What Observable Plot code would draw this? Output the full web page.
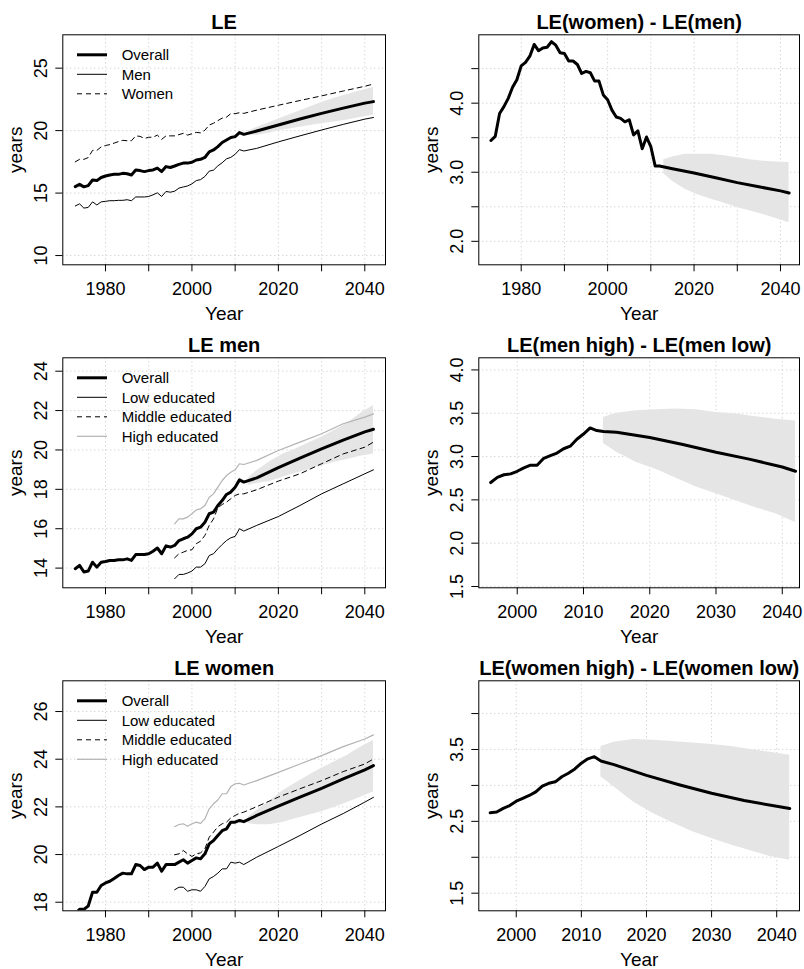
<!DOCTYPE html>
<html><head><meta charset="utf-8">
<script src="https://cdn.jsdelivr.net/npm/d3@7"></script>
<script src="https://cdn.jsdelivr.net/npm/@observablehq/plot@0.6"></script>
<style>
body{margin:0;background:#fff;}
#wrap{position:relative;width:804px;height:969px;overflow:hidden;background:#fff;}
#wrap svg{position:absolute;}
</style></head><body><div id="wrap"></div>
<script>
// ---------- years ----------
const histYears = d3.range(1973, 2013);      // 1973..2012
const eduYears = d3.range(1996, 2013);       // 1996..2012
const gapYears = d3.range(1996, 2014);       // 1996..2013
const projYears = [2015, 2020, 2025, 2030, 2035, 2040, 2042];
const bandYears = [2013, 2015, 2018, 2021, 2024, 2027, 2030, 2033, 2036, 2039, 2042];

// ---------- LE (overall) ----------
const leOverallHist = [15.52,15.70,15.50,15.60,16.05,16.00,16.25,16.37,16.45,16.50,
  16.50,16.58,16.55,16.45,16.85,16.80,16.72,16.80,16.85,17.00,
  16.72,17.12,17.05,17.17,17.30,17.40,17.40,17.47,17.65,17.70,
  17.85,18.30,18.45,18.72,19.05,19.25,19.45,19.52,19.84,19.70];
const leOverallProj = [19.97,20.45,20.93,21.38,21.80,22.20,22.32];
const leBandLo = [19.65,19.60,19.80,20.05,20.20,20.40,20.55,20.70,20.85,21.05,21.25];
const leBandHi = [19.95,20.25,20.65,21.05,21.45,21.85,22.25,22.60,22.90,23.20,23.45];

// ---------- men overall ----------
const menOverallHist = [13.97,14.14,13.80,13.85,14.30,14.05,14.30,14.34,14.39,14.39,
  14.42,14.42,14.47,14.39,14.69,14.69,14.69,14.73,14.86,15.02,
  14.73,15.13,15.07,15.15,15.40,15.49,15.57,15.74,16.00,16.08,
  16.33,16.76,16.84,17.18,17.43,17.74,17.86,18.11,18.48,18.37];
const menOverallProj = [18.58,19.10,19.58,20.05,20.50,20.92,21.05];
const menBandLo = [18.20,18.30,18.40,18.62,18.82,19.00,19.18,19.38,19.52,19.68,19.80];
const menBandHi = [18.55,18.95,19.40,19.78,20.05,20.35,20.65,21.00,21.35,21.85,22.26];

// ---------- women overall ----------
const womenOverallHist = [17.50,17.70,17.70,17.84,18.42,18.42,18.70,18.81,18.88,19.00,
  19.12,19.22,19.19,19.19,19.58,19.54,19.37,19.47,19.47,19.64,
  19.30,19.58,19.58,19.58,19.68,19.78,19.64,19.75,19.86,19.82,
  20.03,20.45,20.59,20.80,21.00,21.08,21.36,21.36,21.43,21.38];
const womenOverallProj = [21.64,22.03,22.41,22.78,23.17,23.55,23.73];
const womenBandLo = [21.30,21.25,21.25,21.35,21.50,21.65,21.80,21.98,22.18,22.40,22.62];
const womenBandHi = [21.57,21.85,22.25,22.67,23.00,23.32,23.62,23.89,24.17,24.50,24.78];

// ---------- LE(women) - LE(men) ----------
const sexGapHist = [3.46,3.52,3.85,3.95,4.07,4.23,4.34,4.54,4.59,4.68,
  4.85,4.76,4.80,4.81,4.89,4.84,4.73,4.72,4.61,4.61,
  4.56,4.43,4.46,4.44,4.32,4.32,4.12,4.05,3.90,3.80,
  3.78,3.73,3.76,3.54,3.60,3.34,3.51,3.37,3.09,3.09];
const sexGapProj = [3.05,2.99,2.92,2.85,2.79,2.73,2.70];
const sexGapBandLo = [2.98,2.87,2.75,2.67,2.61,2.55,2.49,2.44,2.39,2.33,2.27];
const sexGapBandHi = [3.18,3.22,3.26,3.26,3.26,3.24,3.21,3.18,3.16,3.15,3.14];

// ---------- men by education ----------
const menLowHist = [13.46,13.68,13.68,13.75,13.85,14.05,14.05,14.22,14.64,14.73,14.98,15.20,15.40,15.54,15.61,16.00,15.88];
const menLowProj = [16.17,16.62,17.18,17.77,18.28,18.79,18.99];
const menMidHist = [14.52,14.73,14.81,14.90,14.93,15.24,15.37,15.66,16.17,16.50,17.06,17.23,17.35,17.52,17.69,17.77,17.77];
const menMidProj = [17.98,18.42,18.79,19.30,19.80,20.14,20.40];
const menHighHist = [16.25,16.50,16.50,16.59,16.76,16.96,17.01,17.18,17.60,17.77,18.11,18.45,18.70,18.87,18.99,19.30,19.26];
const menHighProj = [19.47,19.97,20.40,20.82,21.33,21.67,21.83];

// ---------- LE(men high) - LE(men low) ----------
const menGapHist = [2.70,2.76,2.79,2.80,2.83,2.87,2.90,2.90,2.98,3.01,3.04,3.09,3.12,3.20,3.26,3.33,3.30,3.29];
const menGapProj = [3.28,3.22,3.14,3.05,2.97,2.88,2.83];
const menGapBandLo = [3.15,3.05,2.93,2.85,2.75,2.65,2.57,2.49,2.41,2.34,2.24];
const menGapBandHi = [3.45,3.50,3.53,3.54,3.55,3.54,3.51,3.49,3.46,3.43,3.41];

// ---------- women by education ----------
const womenLowHist = [18.52,18.63,18.63,18.46,18.52,18.52,18.46,18.66,18.98,19.08,19.22,19.40,19.40,19.68,19.64,19.68,19.58];
const womenLowProj = [19.89,20.34,20.80,21.28,21.72,22.20,22.40];
const womenMidHist = [19.99,20.03,20.17,20.03,19.92,20.03,20.07,20.24,20.73,20.94,21.17,21.29,21.36,21.54,21.64,21.73,21.78];
const womenMidProj = [22.01,22.41,22.76,23.10,23.48,23.80,24.01];
const womenHighHist = [21.17,21.26,21.29,21.19,21.29,21.36,21.31,21.50,21.92,22.13,22.29,22.55,22.55,22.85,22.97,22.99,22.92];
const womenHighProj = [23.10,23.45,23.80,24.15,24.53,24.85,25.02];

// ---------- LE(women high) - LE(women low) ----------
const womenGapHist = [2.62,2.63,2.68,2.72,2.78,2.82,2.86,2.91,2.99,3.03,3.05,3.12,3.17,3.23,3.31,3.37,3.40,3.34];
const womenGapProj = [3.29,3.14,3.01,2.89,2.79,2.71,2.68];
const womenGapBandLo = [3.12,2.98,2.77,2.61,2.48,2.36,2.26,2.17,2.09,2.01,1.96];
const womenGapBandHi = [3.54,3.60,3.64,3.63,3.61,3.59,3.57,3.54,3.50,3.46,3.42];

// ---------- ticks & labels ----------
const xTicksLong = [1980, 1990, 2000, 2010, 2020, 2030, 2040];
const xLabelsLong = [1980, 2000, 2020, 2040];
const xTicksShort = [2000, 2010, 2020, 2030, 2040];
const titles = ["LE", "LE(women) - LE(men)", "LE men", "LE(men high) - LE(men low)", "LE women", "LE(women high) - LE(women low)"];
const legendSex = ["Overall", "Men", "Women"];
const legendEdu = ["Overall", "Low educated", "Middle educated", "High educated"];

// ---------- helpers ----------
const FONT = '"Liberation Sans", Arial, Helvetica, sans-serif';
const STY = {
  thick: {stroke: "#000", w: 3, dash: null},
  thin: {stroke: "#000", w: 1, dash: null},
  dash: {stroke: "#000", w: 1, dash: "5,4"},
  gray: {stroke: "#b3b3b3", w: 1.2, dash: null}
};
const pts = (xs, ys) => xs.map((x, i) => ({x, y: ys[i]}));
const join = (hx, hy, px, py) => pts(hx, hy).concat(pts(px, py));
const band = (lo, hi) => bandYears.map((x, i) => ({x, lo: lo[i], hi: hi[i]}));
const W = 402, H = 323, MT = 34.3, MB = 58.7;
const COLS = [{ml: 62.3, mr: 17, left: 0}, {ml: 76.3, mr: 5, left: 402}];
const f1 = d3.format(".1f");

function panel(p) {
  const col = COLS[p.col];
  const grid = {stroke: "#c4c4c4", strokeOpacity: 1, strokeDasharray: "1,3", strokeWidth: 1};
  const marks = [
    Plot.gridX(p.xTicks, grid),
    Plot.gridY(p.yTicks, grid)
  ];
  if (p.band) marks.push(Plot.areaY(p.band, {x: "x", y1: "lo", y2: "hi", fill: "#e5e5e5", clip: true}));
  for (const l of p.lines) {
    const s = STY[l.style];
    marks.push(Plot.line(l.data, {x: "x", y: "y", stroke: s.stroke, strokeWidth: s.w,
      strokeDasharray: s.dash || undefined, clip: true}));
  }
  marks.push(
    Plot.frame({stroke: "#000", strokeWidth: 1}),
    Plot.axisX(p.xTicks, {tickSize: 7, tickFormat: () => "", label: null}),
    Plot.axisY(p.yTicks, {tickSize: 7, tickFormat: () => "", label: null}),
    Plot.text(p.xLabels, {x: d => d, text: d => String(d), frameAnchor: "bottom", dy: 29.7,
      lineAnchor: "bottom", fontSize: 18, fontFamily: FONT, fill: "#000"}),
    Plot.text(p.yLabels, {y: d => d, text: p.yFmt, frameAnchor: "left", dx: -15.5, rotate: -90,
      lineAnchor: "bottom", textAnchor: "middle", fontSize: 18, fontFamily: FONT, fill: "#000"}),
    Plot.text([p.title], {text: d => d, frameAnchor: "top", dy: -5.5, lineAnchor: "bottom",
      fontSize: 20, fontWeight: "bold", fontFamily: FONT, fill: "#000"}),
    Plot.text(["Year"], {text: d => d, frameAnchor: "bottom", dy: 55, lineAnchor: "bottom",
      fontSize: 19, fontFamily: FONT, fill: "#000"}),
    Plot.text(["years"], {text: d => d, frameAnchor: "left", dx: -41, rotate: -90, lineAnchor: "bottom",
      textAnchor: "middle", fontSize: 19, fontFamily: FONT, fill: "#000"})
  );
  const svg = Plot.plot({
    width: W, height: H,
    marginLeft: col.ml, marginRight: col.mr, marginTop: MT, marginBottom: MB,
    x: {domain: p.xDomain},
    y: {domain: p.yDomain},
    style: {fontFamily: FONT, color: "#000", background: "#fff", overflow: "visible"},
    marks
  });
  if (p.legend) {
    const g = d3.select(svg).append("g").attr("text-anchor", "start");
    p.legend.forEach((lab, i) => {
      const s = STY[p.legendStyles[i]];
      const y = MT + 20.5 + i * 19.5;
      g.append("line").attr("x1", col.ml + 14.7).attr("x2", col.ml + 44.7)
        .attr("y1", y).attr("y2", y).attr("stroke", s.stroke).attr("stroke-width", s.w)
        .attr("stroke-dasharray", s.dash);
      g.append("text").attr("x", col.ml + 59.4).attr("y", y).attr("dy", "0.35em")
        .attr("text-anchor", "start")
        .attr("font-family", FONT).attr("font-size", 15).attr("fill", "#000").text(lab);
    });
  }
  svg.style.left = col.left + "px";
  svg.style.top = (p.row * H) + "px";
  svg.style.maxWidth = "none";
  document.getElementById("wrap").appendChild(svg);
}

const longX = [1970.12, 2044.79];
panel({row: 0, col: 0, title: titles[0], xDomain: longX, yDomain: [9.26, 27.67],
  xTicks: xTicksLong, xLabels: xLabelsLong, yTicks: [10, 15, 20, 25], yLabels: [10, 15, 20, 25], yFmt: d => String(d),
  band: band(leBandLo, leBandHi),
  lines: [
    {data: join(histYears, womenOverallHist, projYears, womenOverallProj), style: "dash"},
    {data: join(histYears, menOverallHist, projYears, menOverallProj), style: "thin"},
    {data: join(histYears, leOverallHist, projYears, leOverallProj), style: "thick"}
  ],
  legend: legendSex, legendStyles: ["thick", "thin", "dash"]});

panel({row: 0, col: 1, title: titles[1], xDomain: [1970.19, 2044.4], yDomain: [1.66, 4.99],
  xTicks: xTicksLong, xLabels: xLabelsLong, yTicks: [2, 2.5, 3, 3.5, 4, 4.5], yLabels: [2, 3, 4], yFmt: f1,
  band: band(sexGapBandLo, sexGapBandHi),
  lines: [{data: join(histYears, sexGapHist, projYears, sexGapProj), style: "thick"}]});

panel({row: 1, col: 0, title: titles[2], xDomain: longX, yDomain: [13.0, 24.68],
  xTicks: xTicksLong, xLabels: xLabelsLong, yTicks: [14, 16, 18, 20, 22, 24], yLabels: [14, 16, 18, 20, 22, 24], yFmt: d => String(d),
  band: band(menBandLo, menBandHi),
  lines: [
    {data: join(eduYears, menHighHist, projYears, menHighProj), style: "gray"},
    {data: join(eduYears, menLowHist, projYears, menLowProj), style: "thin"},
    {data: join(eduYears, menMidHist, projYears, menMidProj), style: "dash"},
    {data: join(histYears, menOverallHist, projYears, menOverallProj), style: "thick"}
  ],
  legend: legendEdu, legendStyles: ["thick", "thin", "dash", "gray"]});

panel({row: 1, col: 1, title: titles[3], xDomain: [1994.2, 2042.6], yDomain: [1.485, 4.14],
  xTicks: xTicksShort, xLabels: xTicksShort, yTicks: [1.5, 2, 2.5, 3, 3.5, 4], yLabels: [1.5, 2, 2.5, 3, 3.5, 4], yFmt: f1,
  band: band(menGapBandLo, menGapBandHi),
  lines: [{data: join(gapYears, menGapHist, projYears, menGapProj), style: "thick"}]});

panel({row: 2, col: 0, title: titles[4], xDomain: longX, yDomain: [17.64, 27.29],
  xTicks: xTicksLong, xLabels: xLabelsLong, yTicks: [18, 20, 22, 24, 26], yLabels: [18, 20, 22, 24, 26], yFmt: d => String(d),
  band: band(womenBandLo, womenBandHi),
  lines: [
    {data: join(eduYears, womenHighHist, projYears, womenHighProj), style: "gray"},
    {data: join(eduYears, womenLowHist, projYears, womenLowProj), style: "thin"},
    {data: join(eduYears, womenMidHist, projYears, womenMidProj), style: "dash"},
    {data: join(histYears, womenOverallHist, projYears, womenOverallProj), style: "thick"}
  ],
  legend: legendEdu, legendStyles: ["thick", "thin", "dash", "gray"]});

panel({row: 2, col: 1, title: titles[5], xDomain: [1994.25, 2043.5], yDomain: [1.255, 4.456],
  xTicks: xTicksShort, xLabels: xTicksShort, yTicks: [1.5, 2, 2.5, 3, 3.5, 4], yLabels: [1.5, 2.5, 3.5], yFmt: f1,
  band: band(womenGapBandLo, womenGapBandHi),
  lines: [{data: join(gapYears, womenGapHist, projYears, womenGapProj), style: "thick"}]});
</script></body></html>
